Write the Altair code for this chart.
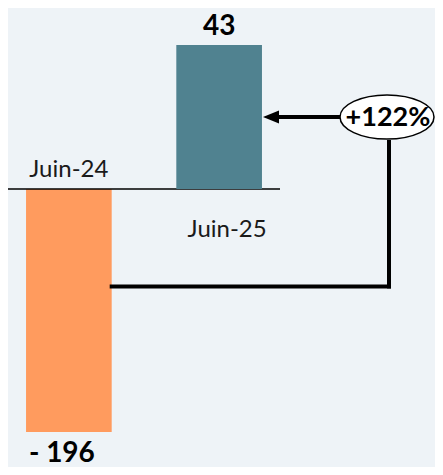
import altair as alt
import pandas as pd

# ---- data ----
categories = ["Juin-24", "Juin-25"]
values = [-196, 43]
value_labels = ["- 196", "43"]
bar_colors = ["#FF9B5E", "#508290"]
change_label = "+122%"
connector_level = -78.6  # level on the Juin-24 bar where the connector starts

BG = "#EEF3F7"
FONT = "Lato"

df = pd.DataFrame({"cat": categories, "v": values, "lab": value_labels, "col": bar_colors})
prev = df.iloc[[0]]
curr = df.iloc[[1]]

xscale = alt.Scale(domain=categories, range=[0, 272], paddingInner=0.43, paddingOuter=0.12)
X = alt.X("cat:N", scale=xscale, axis=None)

y_prev = alt.Scale(domain=[values[0], 0], range=[424, 181], nice=False, zero=False)
y_curr = alt.Scale(domain=[0, values[1]], range=[181, 37], nice=False, zero=False)

ELL_X = 379
VLINE_X = 381

# ---- Juin-24 (negative) layer ----
bp = alt.Chart(prev)
prev_bar = bp.mark_bar().encode(
    x=X,
    y=alt.Y("v:Q", scale=y_prev, axis=None),
    y2=alt.datum(0),
    color=alt.Color("col:N", scale=None),
)
prev_val = bp.mark_text(font=FONT, fontSize=28, fontWeight="bold", baseline="alphabetic",
                        dy=30, dx=-7, color="black").encode(
    x=X, y=alt.Y("v:Q", scale=y_prev, axis=None), text="lab:N")
prev_cat = bp.mark_text(font=FONT, fontSize=24, baseline="alphabetic", dy=-12,
                        color="#1a1a1a").encode(
    x=X, y=alt.Y(datum=0, scale=y_prev, axis=None), text="cat:N")
zero_line = bp.mark_rule(color="black", strokeWidth=1.5).encode(
    x=alt.value(0), x2=alt.value(272), y=alt.Y(datum=0, scale=y_prev, axis=None))
conn_h = bp.mark_rule(color="black", strokeWidth=4, strokeCap="square").encode(
    x=alt.X("cat:N", scale=xscale, axis=None, bandPosition=1),
    x2=alt.value(VLINE_X),
    y=alt.Y(datum=connector_level, scale=y_prev, axis=None))
conn_v = bp.mark_rule(color="black", strokeWidth=4, strokeCap="square").encode(
    x=alt.value(VLINE_X),
    y=alt.Y(datum=connector_level, scale=y_prev, axis=None),
    y2=alt.value(134))

prev_layer = alt.layer(prev_bar, zero_line, prev_val, prev_cat, conn_h, conn_v)

# ---- Juin-25 (positive) layer ----
bc = alt.Chart(curr)
mid = values[1] / 2
curr_bar = bc.mark_bar().encode(
    x=X,
    y=alt.Y("v:Q", scale=y_curr, axis=None),
    y2=alt.datum(0),
    color=alt.Color("col:N", scale=None),
)
curr_val = bc.mark_text(font=FONT, fontSize=28, fontWeight="bold", baseline="alphabetic",
                        dy=-10, color="black").encode(
    x=X, y=alt.Y("v:Q", scale=y_curr, axis=None), text="lab:N")
curr_cat = bc.mark_text(font=FONT, fontSize=24, baseline="alphabetic", dy=48, dx=8,
                        color="#1a1a1a").encode(
    x=X, y=alt.Y(datum=0, scale=y_curr, axis=None), text="cat:N")
arrow_line = bc.mark_rule(color="black", strokeWidth=4).encode(
    x=alt.value(262), x2=alt.value(ELL_X - 46),
    y=alt.Y(datum=mid, scale=y_curr, axis=None))
arrow_head = bc.mark_point(shape="M-1,0L1,-0.8L1,0.8Z", filled=True, color="black",
                           size=256, opacity=1, strokeWidth=0).encode(
    x=alt.value(263), y=alt.Y(datum=mid, scale=y_curr, axis=None))
ellipse = bc.mark_point(shape="M-1,0A1,0.47,0,1,1,1,0A1,0.47,0,1,1,-1,0Z",
                        filled=True, fill="white", stroke="black", strokeWidth=1.5,
                        size=94 * 94, opacity=1).encode(
    x=alt.value(ELL_X), y=alt.Y(datum=mid, scale=y_curr, axis=None))
pct = bc.mark_text(font=FONT, fontSize=27, fontWeight="bold", baseline="middle", dy=1,
                   color="black", text=change_label).encode(
    x=alt.value(ELL_X + 1), y=alt.Y(datum=mid, scale=y_curr, axis=None))

curr_layer = alt.layer(curr_bar, curr_val, curr_cat, arrow_line, arrow_head, ellipse, pct)

chart = alt.layer(prev_layer, curr_layer).resolve_scale(y="independent").properties(
    width=427, height=459, background=BG, padding=0, autosize="none"
).configure_view(stroke=None)

chart.save("out.html", embed_options={"renderer": "svg", "actions": False})
